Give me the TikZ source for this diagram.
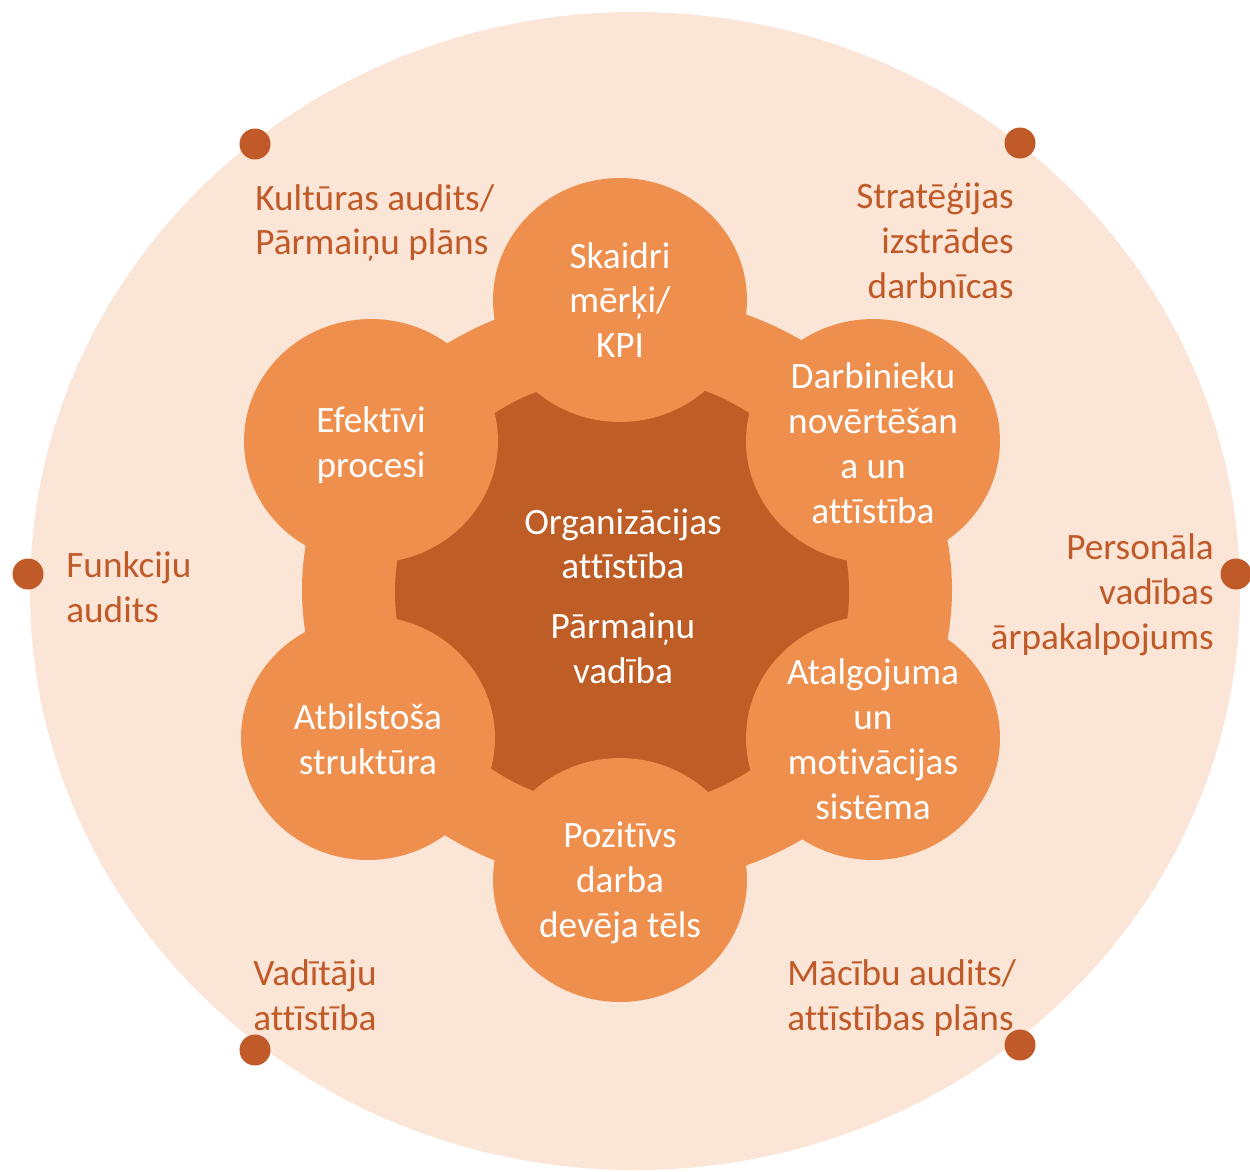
\documentclass[tikz,border=0pt]{standalone}
\usepackage{fontspec}
\setmainfont{Carlito}[Ligatures={NoCommon,NoRequired,NoContextual}]
\usetikzlibrary{shapes.geometric}
\definecolor{bgpeach}{HTML}{FBE5D6}
\definecolor{petalorange}{HTML}{EE8F4D}
\definecolor{coredark}{HTML}{BE5D25}
\definecolor{labelrust}{HTML}{C05A28}
\tikzset{
  txtfont/.style={font=\fontsize{21.2}{25.5}\selectfont},
  petal/.style={ellipse, fill=petalorange, minimum width=5.08cm, minimum height=4.88cm,
    inner sep=0pt, text=white, align=center, txtfont},
  petaltext/.style={inner sep=0pt, text=white, align=center, txtfont},
  coretext/.style={inner sep=0pt, text=white, align=center, txtfont},
  outerlabel/.style={inner sep=0pt, text=labelrust, txtfont},
  dotmark/.style={circle, fill=labelrust, minimum size=0.62cm, inner sep=0pt},
}
\begin{document}
\begin{tikzpicture}[x=0.02cm, y=-0.02cm]
\useasboundingbox (0,0) rectangle (1250,1171);
\clip (0,0) rectangle (1250,1171);
% background disc
\fill[bgpeach] (635,591) ellipse [x radius=605, y radius=579];
% orange band and dark core
\fill[petalorange] (627,590) ellipse [x radius=325, y radius=296];
\fill[coredark] (622,592) ellipse [x radius=227, y radius=216];
% petals
\node[petal] (pTop) at (620,300) {};
\node[petal] (pUR) at (873,441) {};
\node[petal] (pLR) at (873,738) {};
\node[petal] (pBot) at (620,880) {};
\node[petal] (pLL) at (368,738) {};
\node[petal] (pUL) at (371,441) {};
% petal texts
\node[petaltext] (tTop) at (620,300) {Skaidri\\mērķi/\\KPI};
\node[petaltext] (tUR) at (873,443) {Darbinieku\\novērtēšan\\a un\\attīstība};
\node[petaltext] (tLR) at (873,739) {Atalgojuma\\un\\motivācijas\\sistēma};
\node[petaltext] (tBot) at (620,883) {Pozitīvs\\darba\\devēja tēls};
\node[petaltext] (tLL) at (368,739) {Atbilstoša\\struktūra};
\node[petaltext] (tUL) at (371,445) {Efektīvi\\procesi};
% core text
\node[coretext] (core) at (623,596) {Organizācijas\\attīstība\\[8.5pt]Pārmaiņu\\vadība};
% outer labels
\node[outerlabel, anchor=west, align=left] (lKult) at (255,223) {Kultūras audits/\\Pārmaiņu plāns};
\node[outerlabel, anchor=east, align=right] (lStrat) at (1014,241) {Stratēģijas\\izstrādes\\darbnīcas};
\node[outerlabel, anchor=west, align=left] (lFunk) at (66,587) {Funkciju\\audits};
\node[outerlabel, anchor=east, align=right] (lPers) at (1214,595) {Personāla\\vadības\\ārpakalpojums};
\node[outerlabel, anchor=west, align=left] (lVad) at (253,995) {Vadītāju\\attīstība};
\node[outerlabel, anchor=west, align=left] (lMac) at (787,998) {Mācību audits/\\attīstības plāns};
% dots
\node[dotmark] (d1) at (255,144) {};
\node[dotmark] (d2) at (1020,143) {};
\node[dotmark] (d3) at (28,574) {};
\node[dotmark] (d4) at (1236,574) {};
\node[dotmark] (d5) at (255,1050) {};
\node[dotmark] (d6) at (1020,1045) {};
\end{tikzpicture}
\end{document}
